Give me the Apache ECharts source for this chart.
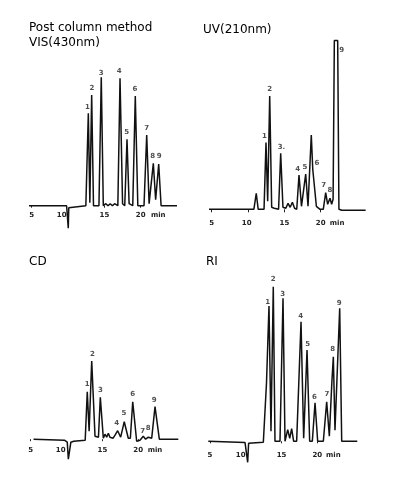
<!DOCTYPE html>
<html>
<head>
<meta charset="utf-8">
<script src="https://cdn.jsdelivr.net/npm/echarts@6/dist/echarts.min.js"></script>
<style>
html,body{margin:0;padding:0;background:#fff;}
#c{width:396px;height:482px;}
</style>
</head>
<body>
<div id="c"></div>
<script>
// ---------- DATA (retention time in min, detector signal in arbitrary units) ----------
const visTime   = [4.63, 9.8, 9.95, 10.03, 10.1, 10.25, 12.45, 12.79, 13.0, 13.25, 13.5, 14.25, 14.57, 14.85, 15.2, 15.5, 15.8, 16.1, 16.4, 16.85, 17.15, 17.5, 17.8, 18.11, 18.4, 18.9, 19.25, 19.6, 20.45, 20.82, 21.15, 21.4, 21.73, 22.05, 22.47, 22.8, 24.99];
const visSignal = [0, 0, -2, -22.6, -2, 0, 0, 92.4, 3, 110.7, 0, 0, 128.4, 0, 2, 0, 2, 0, 2, 0, 127.4, 2, 0, 66.4, 2, 0, 109.7, 0, 0, 70.7, 2, 0, 42.4, 6, 41.7, 0, 0];

const uvTime   = [4.63, 10.8, 11.13, 11.4, 12.2, 12.47, 12.7, 12.98, 13.25, 13.6, 14.2, 14.49, 14.8, 15.2, 15.5, 15.8, 16.1, 16.4, 16.7, 17.01, 17.35, 17.6, 17.93, 18.25, 18.45, 18.7, 18.9, 19.07, 19.4, 19.9, 20.35, 20.68, 20.95, 21.27, 21.5, 21.7, 21.87, 22.33, 22.5, 22.9, 26.18];
const uvSignal = [0, 0, 16, 0, 0, 66.7, 8, 113.3, 2, 1, 0, 56, 2, 1, 6, 2, 7, 1, 0, 34.3, 3, 1, 35.3, 3, 2, 74.3, 40, 39.3, 3, 0, 0, 16.7, 5, 11, 5, 10, 168.7, 168.7, 0, -1, -1];

const cdTime   = [5.4, 9.7, 10.1, 10.25, 10.5, 10.6, 11.0, 12.6, 12.89, 13.15, 13.51, 13.97, 14.45, 14.71, 15.13, 15.36, 15.6, 15.83, 16.05, 16.3, 16.5, 16.76, 16.95, 17.13, 17.55, 18.05, 18.61, 18.9, 19.23, 19.78, 20.24, 20.7, 21.03, 21.4, 21.88, 22.34, 22.94, 25.59];
const cdSignal = [0, -1, -3, -20, -20, -3, -2, -1, 47.5, 8, 78.2, 3, 2, 41.9, 1, 5, 2, 6, 2, 4, 1, 4, 2, 8.5, 2, 17.5, 1, 1, 37.5, -2, -1, 3, 0, 2, 1, 32.5, 0, 0];

const riTime   = [4.76, 9.9, 10.15, 10.27, 10.4, 10.6, 12.46, 12.6, 12.9, 13.25, 13.53, 13.85, 14.09, 14.79, 15.21, 15.49, 15.87, 16.15, 16.42, 16.7, 17.12, 17.73, 18.1, 18.57, 18.94, 19.31, 19.69, 20.06, 20.85, 21.32, 21.69, 22.05, 22.25, 22.48, 23.14, 23.42, 25.6];
const riSignal = [0, -1.3, -2, -21, -2, -1, -1, 0, 58, 135.3, 10, 154.6, 0, 0, 143, 0, 11.7, 3, 12.7, 0, 0, 119.6, 3, 91.3, 0, 0, 38.6, 0, 0, 39.6, 5, 60, 84.6, 11, 133, 0, 0];

// peak number labels: [time, signal-position]
const peakNames   = ['1','2','3','4','5','6','7','8','9'];
const uvPeakNames = ['1','2','3.','4','5','6','7','8','9'];
const visLabelT = [12.65, 13.29, 14.57, 17.05, 18.07, 19.21, 20.82, 21.64, 22.55];
const visLabelV = [98.4, 117.4, 132.4, 135, 74, 116.4, 77.4, 49.7, 49.7];
const uvLabelT  = [12.24, 12.98, 14.6, 16.83, 17.83, 19.48, 20.4, 21.27, 22.88];
const uvLabelV  = [73.3, 120, 62.6, 40.6, 42, 46, 24, 19.3, 159.3];
const cdLabelT  = [12.89, 13.6, 14.71, 17.0, 18.01, 19.23, 20.62, 21.4, 22.24];
const cdLabelV  = [55.2, 85.2, 49.2, 15.9, 26.5, 44.9, 8.5, 10.9, 39.2];
const riLabelT  = [13.07, 13.85, 15.17, 17.68, 18.66, 19.59, 21.36, 22.16, 23.08];
const riLabelV  = [139.6, 162, 147.3, 125.3, 97, 44, 47.3, 92.3, 138.6];

// axis tick labels
const tickText   = ['5', '10', '15', '20', 'min'];
const visTickPos = [5, 9.13, 15, 20, 22.41];
const uvTickPos  = [5, 9.81, 15, 20, 22.25];
const cdTickPos  = [5, 9.18, 15, 20, 22.34];
const riTickPos  = [5, 9.29, 15, 20, 22.25];
const visTickMarks = [5, 15, 20];
const uvTickMarks  = [5, 10, 15, 20];
const cdTickMarks  = [5, 15, 20];
const riTickMarks  = [5, 15, 20];

const titles = ['Post column method\nVIS(430nm)', 'UV(210nm)', 'CD', 'RI'];

// ---------- CHART ----------
const zip = (a, b) => a.map((v, i) => [v, b[i]]);
const zip3 = (a, b, c) => a.map((v, i) => [v, b[i], c[i]]);

const panels = [
  {t: visTime, v: visSignal, lt: visLabelT, lv: visLabelV, ln: peakNames, tp: visTickPos, tm: visTickMarks,
   grid: {left: 24.43, width: 167.2, top: 60.7, height: 149}, ymin: -4, ymax: 145, margin: 2, tick: 2},
  {t: uvTime, v: uvSignal, lt: uvLabelT, lv: uvLabelV, ln: uvPeakNames, tp: uvTickPos, tm: uvTickMarks,
   grid: {left: 204.43, width: 167.2, top: 39.3, height: 174}, ymin: -4, ymax: 170, margin: 6, tick: 3},
  {t: cdTime, v: cdSignal, lt: cdLabelT, lv: cdLabelV, ln: peakNames, tp: cdTickPos, tm: cdTickMarks,
   grid: {left: 23.53, width: 164.9, top: 339.2, height: 104}, ymin: -4, ymax: 100, margin: 3, tick: 2},
  {t: riTime, v: riSignal, lt: riLabelT, lv: riLabelV, ln: peakNames, tp: riTickPos, tm: riTickMarks,
   grid: {left: 202.85, width: 164.45, top: 271.3, height: 175}, ymin: -5, ymax: 170, margin: 5.7, tick: 2}
];

const FONT = 'DejaVu Sans';
const titleStyle = {fontFamily: FONT, fontSize: 12, fontWeight: 'normal', color: '#000', lineHeight: 15};
const option = {
  backgroundColor: '#fff',
  animation: false,
  title: [
    {text: titles[0], left: 29, top: 20, padding: 0, textStyle: titleStyle},
    {text: titles[1], left: 203, top: 22, padding: 0, textStyle: titleStyle},
    {text: titles[2], left: 29, top: 254, padding: 0, textStyle: titleStyle},
    {text: titles[3], left: 206, top: 254, padding: 0, textStyle: titleStyle}
  ],
  grid: panels.map(p => Object.assign({containLabel: false}, p.grid)),
  xAxis: panels.map((p, i) => ({
    type: 'value', gridIndex: i, min: 4, max: 27,
    axisLine: {show: false},
    splitLine: {show: false},
    axisTick: {show: true, customValues: p.tm, length: p.tick, lineStyle: {color: '#222', width: 1}},
    axisLabel: {
      show: true, customValues: p.tp, margin: p.margin,
      fontFamily: FONT, fontSize: 7, fontWeight: 'bold', color: '#222',
      formatter: (val) => {
        const k = p.tp.findIndex(x => Math.abs(x - val) < 1e-6);
        return k >= 0 ? tickText[k] : '';
      }
    }
  })),
  yAxis: panels.map((p, i) => ({
    type: 'value', gridIndex: i, min: p.ymin, max: p.ymax, show: false, splitLine: {show: false}
  })),
  series: []
};

panels.forEach((p, i) => {
  option.series.push({
    type: 'line', xAxisIndex: i, yAxisIndex: i,
    data: zip(p.t, p.v),
    showSymbol: false, symbol: 'none', clip: false, silent: true,
    lineStyle: {color: '#111', width: 1.5}
  });
  option.series.push({
    type: 'scatter', xAxisIndex: i, yAxisIndex: i,
    data: zip3(p.lt, p.lv, p.ln),
    symbolSize: 1, itemStyle: {color: 'rgba(0,0,0,0)'}, silent: true, clip: false,
    label: {show: true, position: 'inside', formatter: q => q.data[2],
            fontFamily: FONT, fontSize: 7, fontWeight: 'bold', color: '#222'}
  });
});

const chart = echarts.init(document.getElementById('c'), null, {renderer: 'canvas'});
chart.setOption(option);
</script>
</body>
</html>
